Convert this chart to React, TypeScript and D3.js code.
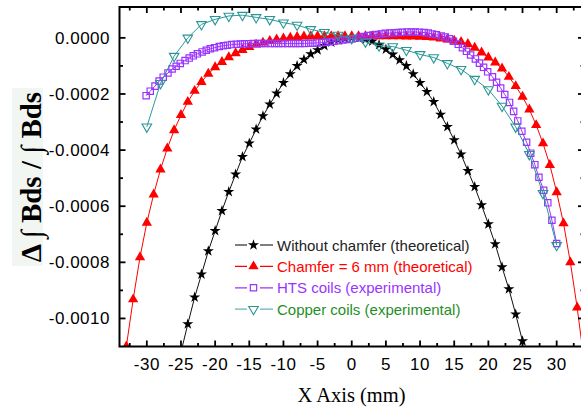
import React from 'react';
import * as d3 from 'd3';

const W = 581;
const H = 410;

// ---- axis ticks ----
const xMajorTicks = [-30, -25, -20, -15, -10, -5, 0, 5, 10, 15, 20, 25, 30];
const xTickLabels = ["-30", "-25", "-20", "-15", "-10", "-5", "0", "5", "10", "15", "20", "25", "30"];
const xMinorTicks = [-32.5, -27.5, -22.5, -17.5, -12.5, -7.5, -2.5, 2.5, 7.5, 12.5, 17.5, 22.5, 27.5, 32.5];
const yMajorTicks = [-0.001, -0.0008, -0.0006, -0.0004, -0.0002, 0];
const yTickLabels = ["-0.0010", "-0.0008", "-0.0006", "-0.0004", "-0.0002", "0.0000"];
const yMinorTicks = [-0.0009, -0.0007, -0.0005, -0.0003, -0.0001];

// ---- series: Without chamfer (theoretical) ----
const noChamferX = [-25, -24, -23, -22, -21, -20, -19, -18, -17, -16, -15, -14, -13, -12, -11, -10, -9, -8, -7, -6, -5, -4, -3, -2, -1, 0, 1, 2, 3, 4, 5, 6, 7, 8, 9, 10, 11, 12, 13, 14, 15, 16, 17, 18, 19, 20, 21, 22, 23, 24, 25];
const noChamferY = [-0.00112, -0.00102, -0.000925, -0.000843, -0.00076, -0.000688, -0.000616, -0.000549, -0.000486, -0.000424, -0.000376, -0.000326, -0.000279, -0.000237, -0.000198, -0.00016, -0.000129, -0.0001, -0.000077, -0.000058, -0.000043, -0.000028, -0.000016, -0.000007, -0.000002, 0, -0.000001, -0.000005, -0.000012, -0.000025, -0.000041, -0.000059, -0.000079, -0.0001, -0.000129, -0.00016, -0.000192, -0.000228, -0.000273, -0.000317, -0.000364, -0.000415, -0.000474, -0.000531, -0.000596, -0.000664, -0.000735, -0.000817, -0.000895, -0.000985, -0.001081];

// ---- series: Chamfer = 6 mm (theoretical) ----
const chamferX = [-33, -32, -31, -30, -29, -28, -27, -26, -25, -24, -23, -22, -21, -20, -19, -18, -17, -16, -15, -14, -13, -12, -11, -10, -9, -8, -7, -6, -5, -4, -3, -2, -1, 0, 1, 2, 3, 4, 5, 6, 7, 8, 9, 10, 11, 12, 13, 14, 15, 16, 17, 18, 19, 20, 21, 22, 23, 24, 25, 26, 27, 28, 29, 30, 31, 32, 33, 34];
const chamferY = [-0.0011, -0.000932, -0.000782, -0.000659, -0.000558, -0.000469, -0.000394, -0.000329, -0.000275, -0.000228, -0.000189, -0.000157, -0.000128, -0.000105, -0.000086, -0.000069, -0.000055, -0.000043, -0.000033, -0.000024, -0.000017, -0.000011, -0.000006, -0.000002, 0.000001, 0.000003, 0.000005, 0.000006, 0.000006, 0.000006, 0.000006, 0.000006, 0.000006, 0.000006, 0.000006, 0.000006, 0.000006, 0.000006, 0.000006, 0.000006, 0.000006, 0.000005, 0.000005, 0.000004, 0.000003, 0.000001, -0.000002, -0.000006, -0.00001, -0.000015, -0.000022, -0.000035, -0.000052, -0.00007, -0.000088, -0.000109, -0.000139, -0.000172, -0.00021, -0.000255, -0.000311, -0.000376, -0.000453, -0.00055, -0.000661, -0.0008, -0.000961, -0.00115];

// ---- series: HTS coils (experimental) ----
const htsX = [-30.1, -29.5, -28.8, -28.2, -27.6, -26.9, -26.3, -25.7, -25.1, -24.4, -23.8, -23.2, -22.6, -21.9, -21.3, -20.7, -20.1, -19.4, -18.8, -18.2, -17.6, -16.9, -16.3, -15.7, -15.1, -14.4, -13.8, -13.2, -12.6, -11.9, -11.3, -10.7, -10.1, -9.4, -8.8, -8.2, -7.6, -6.9, -6.3, -5.7, -5.1, -4.4, -3.8, -3.2, -2.6, -1.9, -1.3, -0.7, -0.1, 0.6, 1.2, 1.8, 2.4, 3.1, 3.7, 4.3, 4.9, 5.6, 6.2, 6.8, 7.4, 8.1, 8.7, 9.3, 9.9, 10.6, 11.2, 11.8, 12.4, 13.1, 13.7, 14.3, 14.9, 15.6, 16.2, 16.8, 17.4, 18.1, 18.7, 19.3, 19.9, 20.6, 21.2, 21.8, 22.4, 23.1, 23.7, 24.3, 24.9, 25.6, 26.2, 26.8, 27.4, 28.1, 28.7, 29.3, 30.0];
const htsY = [-0.000206, -0.00019, -0.000172, -0.000154, -0.00014, -0.000125, -0.000111, -0.000101, -0.000091, -0.000081, -0.000072, -0.000064, -0.000057, -0.00005, -0.000044, -0.000039, -0.000035, -0.000031, -0.000028, -0.000026, -0.000024, -0.000023, -0.000022, -0.000021, -0.000021, -0.00002, -0.00002, -0.00002, -0.00002, -0.00002, -0.00002, -0.00002, -0.00002, -0.00002, -0.00002, -0.00002, -0.00002, -0.00002, -0.000019, -0.000019, -0.000018, -0.000017, -0.000016, -0.000014, -0.000012, -0.00001, -0.000008, -0.000006, -0.000004, -0.000001, 0.000002, 0.000005, 0.000008, 0.00001, 0.000012, 0.000014, 0.000016, 0.000017, 0.000018, 0.000019, 0.00002, 0.000021, 0.000021, 0.000021, 0.00002, 0.000019, 0.000017, 0.000014, 0.000011, 0.000007, 0.000003, -0.000003, -0.000012, -0.000023, -0.000035, -0.000048, -0.000061, -0.000075, -0.00009, -0.000105, -0.000121, -0.000139, -0.000158, -0.000179, -0.000202, -0.00023, -0.000262, -0.000296, -0.000333, -0.000372, -0.000411, -0.000452, -0.000497, -0.000543, -0.000588, -0.00065, -0.000733];

// ---- series: Copper coils (experimental) ----
const copperX = [-30, -28, -26, -24, -22, -20, -18, -16, -14, -12, -10, -8, -6, -4, -2, 0, 2, 4, 6, 8, 10, 12, 14, 16, 18, 20, 22, 24, 26, 28, 30];
const copperY = [-0.000317, -0.000162, -0.000065, 0.0, 0.000048, 0.000066, 0.000078, 0.000081, 0.000073, 0.000066, 0.000054, 0.000046, 0.00003, 0.00002, 0.00001, -0.000002, -0.000014, -0.000028, -0.000031, -0.000044, -0.000059, -0.00007, -0.000091, -0.000112, -0.000147, -0.000184, -0.000243, -0.000317, -0.000415, -0.000554, -0.000739];

const legendLabels = [
  "Without chamfer (theoretical)",
  "Chamfer = 6 mm (theoretical)",
  "HTS coils (experimental)",
  "Copper coils (experimental)",
];

// plot geometry
const PL = 119.5;
const PR = 584;
const PT = 7;
const PB = 346.5;

const x = d3.scaleLinear().domain([-34, 34]).range([PL, PR]);
const y = d3.scaleLinear().domain([-0.0011, 0.00011]).range([PB, PT]);

const starPath = d3.symbol().type(d3.symbolStar).size(38)() as string;
const triPath = d3.symbol().type(d3.symbolTriangle).size(46)() as string;
const sqPath = d3.symbol().type(d3.symbolSquare).size(40)() as string;
const invTriPath = d3.symbol().type(d3.symbolTriangle).size(40)() as string;

type Series = {
  xs: number[];
  ys: number[];
  line: string;
  lineW: number;
  path: string;
  fill: string;
  stroke: string;
  strokeW: number;
  rotate: number;
  legendLine: string;
  textColor: string;
};

const series: Series[] = [
  { xs: noChamferX, ys: noChamferY, line: '#111', lineW: 1, path: starPath, fill: '#000', stroke: 'none', strokeW: 0, rotate: 0, legendLine: '#555', textColor: '#222' },
  { xs: chamferX, ys: chamferY, line: '#ff0000', lineW: 1, path: triPath, fill: '#ff0000', stroke: 'none', strokeW: 0, rotate: 0, legendLine: '#ff0000', textColor: '#ff0000' },
  { xs: htsX, ys: htsY, line: '#9933ff', lineW: 1, path: sqPath, fill: 'none', stroke: '#9933ff', strokeW: 1.2, rotate: 0, legendLine: '#9933ff', textColor: '#9933ff' },
  { xs: copperX, ys: copperY, line: '#2a9999', lineW: 1, path: invTriPath, fill: 'none', stroke: '#2a9595', strokeW: 1.1, rotate: 180, legendLine: '#66b3b3', textColor: '#1f8f1f' },
];

const lineGen = d3.line<[number, number]>().x(d => x(d[0])).y(d => y(d[1]));

export default function App() {
  const tickFont = { fontFamily: 'Liberation Sans, Arial, sans-serif', fontSize: 17, letterSpacing: 0.5 };
  return (
    <svg width={W} height={H} style={{ position: 'absolute', left: 0, top: 0, background: '#fff' }}>
      <defs>
        <clipPath id="plotClip">
          <rect x={PL} y={PT} width={PR - PL} height={PB - PT} />
        </clipPath>
      </defs>

      {/* y title background */}
      <rect x={12} y={88} width={31} height={178} fill="#f2f6f2" />
      <text
        transform={`translate(41,177) rotate(-90)`}
        textAnchor="middle"
        style={{ fontFamily: 'Liberation Serif, Times New Roman, serif', fontSize: 29, fontWeight: 'bold' }}
        fill="#000"
      >
        Δ ∫ Bds / ∫ Bds
      </text>

      {/* series */}
      <g clipPath="url(#plotClip)">
        {series.map((s, i) => {
          const pts: [number, number][] = s.xs.map((xv, j) => [xv, s.ys[j]]);
          return (
            <g key={i}>
              <path d={lineGen(pts) as string} fill="none" stroke={s.line} strokeWidth={s.lineW} />
              {pts.map((p, j) => (
                <path
                  key={j}
                  d={s.path}
                  transform={`translate(${x(p[0])},${y(p[1])})${s.rotate ? ` rotate(${s.rotate})` : ''}`}
                  fill={s.fill}
                  stroke={s.stroke}
                  strokeWidth={s.strokeW}
                />
              ))}
            </g>
          );
        })}
      </g>

      {/* frame */}
      <rect x={PL} y={PT} width={PR - PL} height={PB - PT} fill="none" stroke="#000" strokeWidth={2} />

      {/* x ticks */}
      {xMajorTicks.map((t, i) => (
        <g key={'xm' + i}>
          <line x1={x(t)} x2={x(t)} y1={PB} y2={PB - 6} stroke="#000" strokeWidth={1.8} />
          <line x1={x(t)} x2={x(t)} y1={PT} y2={PT + 6} stroke="#000" strokeWidth={1.8} />
          <text x={x(t)} y={369.5} textAnchor="middle" style={tickFont} fill="#000">{xTickLabels[i]}</text>
        </g>
      ))}
      {xMinorTicks.map((t, i) => (
        <g key={'xn' + i}>
          <line x1={x(t)} x2={x(t)} y1={PB} y2={PB - 3.5} stroke="#000" strokeWidth={1.8} />
          <line x1={x(t)} x2={x(t)} y1={PT} y2={PT + 3.5} stroke="#000" strokeWidth={1.8} />
        </g>
      ))}

      {/* y ticks */}
      {yMajorTicks.map((t, i) => (
        <g key={'ym' + i}>
          <line x1={PL} x2={PL + 6} y1={y(t)} y2={y(t)} stroke="#000" strokeWidth={1.8} />
          <line x1={PR} x2={PR - 6} y1={y(t)} y2={y(t)} stroke="#000" strokeWidth={1.8} />
          <text x={110} y={y(t) + 6} textAnchor="end" style={tickFont} fill="#000">{yTickLabels[i]}</text>
        </g>
      ))}
      {yMinorTicks.map((t, i) => (
        <g key={'yn' + i}>
          <line x1={PL} x2={PL + 3.5} y1={y(t)} y2={y(t)} stroke="#000" strokeWidth={1.8} />
          <line x1={PR} x2={PR - 3.5} y1={y(t)} y2={y(t)} stroke="#000" strokeWidth={1.8} />
        </g>
      ))}

      {/* x title */}
      <text x={351.5} y={402} textAnchor="middle" style={{ fontFamily: 'Liberation Serif, Times New Roman, serif', fontSize: 20.5 }} fill="#000">
        X Axis (mm)
      </text>

      {/* legend */}
      {series.map((s, i) => {
        const ly = 245 + i * 21.4;
        return (
          <g key={'lg' + i}>
            <line x1={235} x2={273} y1={ly} y2={ly} stroke={s.legendLine} strokeWidth={1.3} />
            <rect x={247} y={ly - 6} width={13} height={12} fill="#fff" />
            <path
              d={s.path}
              transform={`translate(253.5,${ly})${s.rotate ? ` rotate(${s.rotate})` : ''}`}
              fill={s.fill}
              stroke={s.stroke}
              strokeWidth={s.strokeW}
            />
            <text x={277} y={ly + 5.5} style={{ fontFamily: 'Liberation Sans, Arial, sans-serif', fontSize: 15 }} fill={s.textColor}>
              {legendLabels[i]}
            </text>
          </g>
        );
      })}
    </svg>
  );
}
